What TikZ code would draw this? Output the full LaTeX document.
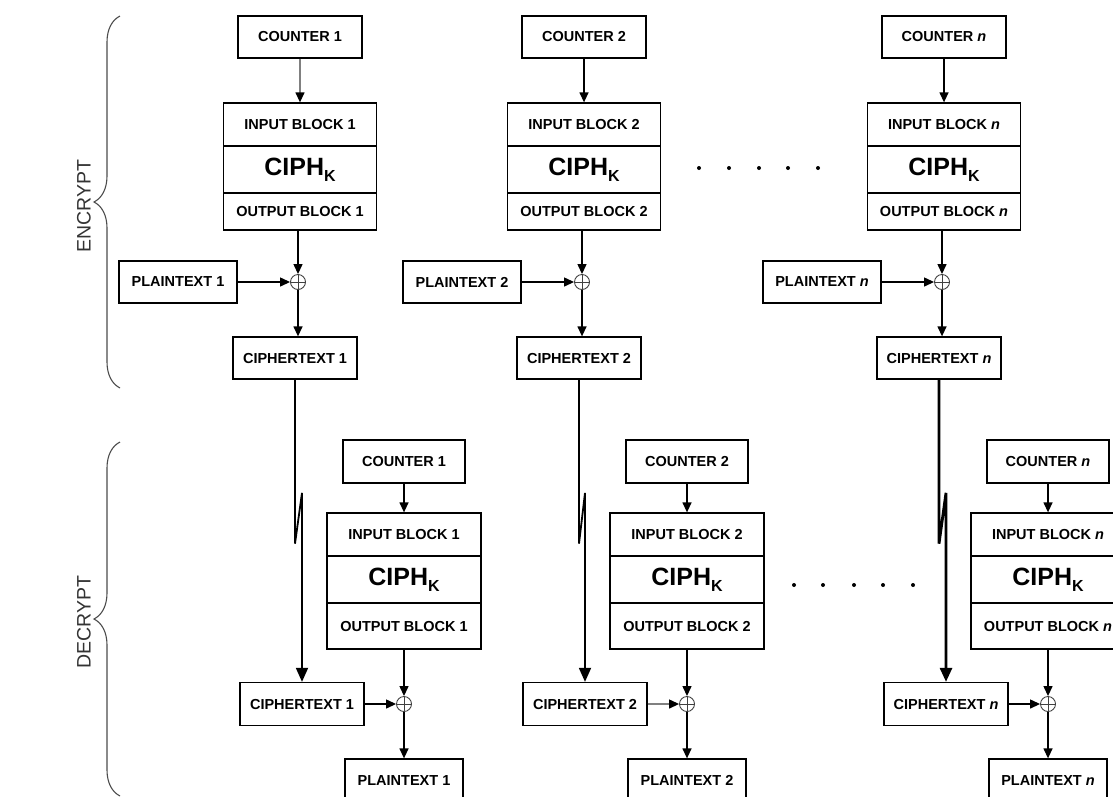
\documentclass[tikz,border=0pt]{standalone}
\usepackage{fontspec}
\setmainfont{Liberation Sans}
\usetikzlibrary{arrows.meta,calc,decorations.pathreplacing}
\newcommand\boxfont{\fontsize{14.5}{16}\selectfont\bfseries}
\newcommand\ciphk{{\fontsize{25}{27}\selectfont\bfseries CIPH\raisebox{-6pt}{\fontsize{16}{16}\selectfont K}}}
\tikzset{
  box/.style={draw,line width=1.3pt,inner sep=0pt,font=\boxfont},
  xorsym/.style={circle,draw=black!75,line width=0.9pt,inner sep=0pt,minimum size=15pt,
    path picture={\draw[black!75,line width=0.9pt]
      (path picture bounding box.north) -- (path picture bounding box.south)
      (path picture bounding box.west) -- (path picture bounding box.east);}},
  flow/.style={line width=1.3pt,-{Triangle[length=10pt,width=9pt,black]}},
  carry/.style={-{Triangle[length=14pt,width=12pt]}},
  bracket/.style={draw=black!70,line width=1.1pt,decorate,decoration={brace,amplitude=26pt}},
}
\begin{document}
\begin{tikzpicture}[x=1pt,y=-1pt]%CTR mode
\useasboundingbox (0,0) rectangle (1113,796);
\clip (0,0) rectangle (1113,796);
% encrypt and decrypt side for each counter
\foreach \i/\E/\D/\l/\ca/\cb/\w in {1/298/404/1/gray/black/1.8pt,
    2/582/687/2/black/gray/1.8pt, n/942/1048/{\textit{n}}/black/black/2.8pt} {
  \node[box,minimum width=124pt,minimum height=42pt] (ctr\i) at (\E+2,37) {COUNTER \l};
  \node[box,minimum width=153pt,minimum height=43pt] (inb\i) at (\E+2,124.5) {INPUT BLOCK \l};
  \node[box,minimum width=153pt,minimum height=47pt] (ciph\i) at (\E+2,169.5) {\ciphk};
  \node[box,minimum width=153pt,minimum height=37pt] (outb\i) at (\E+2,211.5) {OUTPUT BLOCK \l};
  \node[xorsym] (xe\i) at (\E,282) {};
  \node[box,minimum width=118pt,minimum height=42pt] (pt\i) at (\E-120,282) {PLAINTEXT \l};
  \node[box,minimum width=124pt,minimum height=42pt] (ct\i) at (\E-3,358) {CIPHERTEXT \l};
  %
  \node[box,minimum width=122pt,minimum height=43pt] (dctr\i) at (\D,461.5) {COUNTER \l};
  \node[box,minimum width=154pt,minimum height=43pt] (dinb\i) at (\D,534.5) {INPUT BLOCK \l};
  \node[box,minimum width=154pt,minimum height=47pt] (dciph\i) at (\D,579.5) {\ciphk};
  \node[box,minimum width=154pt,minimum height=46pt] (doutb\i) at (\D,626) {OUTPUT BLOCK \l};
  \node[xorsym] (xd\i) at (\D,704) {};
  \node[box,minimum width=124pt,minimum height=43pt] (dct\i) at (\D-102,704) {CIPHERTEXT \l};
  \node[box,minimum width=118pt,minimum height=42pt] (dpt\i) at (\D,780) {PLAINTEXT \l};
  %
  \draw[flow,\ca] (ctr\i) -- (inb\i);
  \draw[flow] (outb\i.south -| xe\i) -- (xe\i);
  \draw[flow] (pt\i) -- (xe\i);
  \draw[flow] (xe\i) -- (xe\i |- ct\i.north);
  \draw[carry,line width=\w] (ct\i.south) -- ++(0,164)
    -- ($(dct\i.north)+(0,-189)$) -- (dct\i.north);
  \draw[flow] (dctr\i) -- (dinb\i);
  \draw[flow] (doutb\i) -- (xd\i);
  \draw[flow,\cb] (dct\i) -- (xd\i);
  \draw[flow] (xd\i) -- (dpt\i);
}
\fill \foreach \x in {699,729,759,788,818} {(\x,168) circle (2pt)};
\fill \foreach \x in {794,823,854,883,913} {(\x,585) circle (2pt)};
%\fill[black!8] (14,100) -- (44,100) -- (44,130);
\draw[bracket] (120,388) -- (120,16);
\draw[bracket] (120,796) -- (120,442);
\node[rotate=90,text=black!80,font=\fontsize{19.5}{21}\selectfont] (enc) at (84,206) {ENCRYPT};
\node[rotate=90,text=black!80,font=\fontsize{19.5}{21}\selectfont] (dec) at (84,622) {DECRYPT};
\end{tikzpicture}
\end{document}
